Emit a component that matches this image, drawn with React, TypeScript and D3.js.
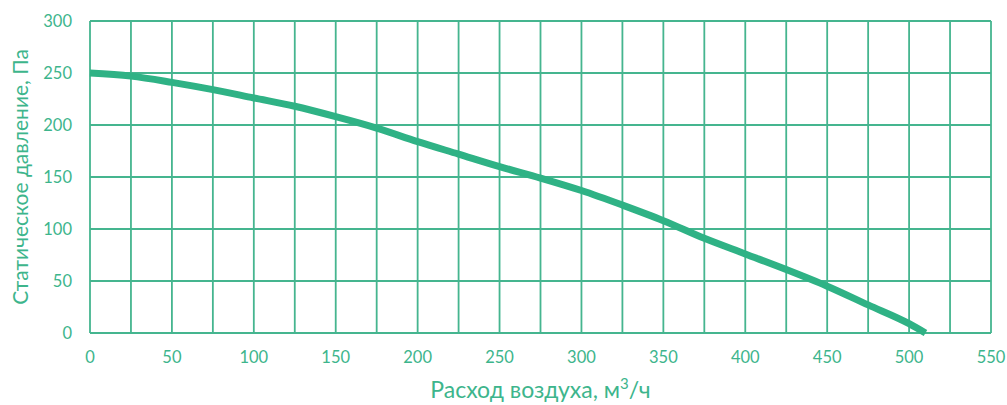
import { useRef, useEffect } from 'react';
import * as d3 from 'd3';

const flow = [0, 25, 50, 75, 100, 125, 150, 175, 200, 225, 250, 275, 300, 325, 350, 375, 400, 425, 450, 475, 500, 510];
const pressure = [250, 247, 241, 234, 226, 218, 208, 197, 184, 172, 160, 149, 137, 123, 108, 91, 76, 61, 45, 27, 9, 0];
const xTicks = [0, 50, 100, 150, 200, 250, 300, 350, 400, 450, 500, 550];
const xGrid = d3.range(0, 551, 25);
const yTicks = [0, 50, 100, 150, 200, 250, 300];

const width = 1007;
const height = 405;
const green = '#2fb285';
const labelColor = '#3db58c';
const gridColor = '#45b58f';
const font = 'Lato, "Open Sans", sans-serif';

export default function App() {
  const svgRef = useRef<SVGSVGElement>(null);

  useEffect(() => {
    if (!svgRef.current) return;
    const svg = d3.select(svgRef.current);
    svg.selectAll('*').remove();

    const margin = { top: 21, right: 16, bottom: 72, left: 90 };
    const w = width - margin.left - margin.right;
    const h = height - margin.top - margin.bottom;

    const g = svg.append('g').attr('transform', `translate(${margin.left},${margin.top})`);

    const x = d3.scaleLinear().domain([0, 550]).range([0, w]);
    const y = d3.scaleLinear().domain([0, 300]).range([h, 0]);

    // Grid
    g.selectAll('.vgrid')
      .data(xGrid)
      .join('line')
      .attr('x1', (d) => x(d))
      .attr('x2', (d) => x(d))
      .attr('y1', 0)
      .attr('y2', h)
      .attr('stroke', gridColor)
      .attr('stroke-width', 1.8);

    g.selectAll('.hgrid')
      .data(yTicks)
      .join('line')
      .attr('x1', 0)
      .attr('x2', w)
      .attr('y1', (d) => y(d))
      .attr('y2', (d) => y(d))
      .attr('stroke', gridColor)
      .attr('stroke-width', 1.8);

    // Curve
    const pts = flow.map((f, i) => [f, pressure[i]] as [number, number]);
    const line = d3.line<[number, number]>()
      .x((d) => x(d[0]))
      .y((d) => y(d[1]))
      .curve(d3.curveMonotoneX);

    g.append('path')
      .datum(pts)
      .attr('fill', 'none')
      .attr('stroke', green)
      .attr('stroke-width', 7)
      .attr('d', line);

    // Tick labels
    g.selectAll('.xt')
      .data(xTicks)
      .join('text')
      .attr('x', (d) => x(d))
      .attr('y', h + 30)
      .attr('text-anchor', 'middle')
      .attr('fill', labelColor)
      .attr('font-family', font)
      .attr('font-size', 16.5)
      .text((d) => d);

    g.selectAll('.yt')
      .data(yTicks)
      .join('text')
      .attr('x', -18)
      .attr('y', (d) => y(d) + 5.5)
      .attr('text-anchor', 'end')
      .attr('fill', labelColor)
      .attr('font-family', font)
      .attr('font-size', 16.5)
      .text((d) => d);

    // Axis titles
    const xt = svg.append('text')
      .attr('x', margin.left + w / 2)
      .attr('y', 398)
      .attr('text-anchor', 'middle')
      .attr('fill', labelColor)
      .attr('font-family', font)
      .attr('font-size', 23);
    xt.append('tspan').text('Расход воздуха, м');
    xt.append('tspan').attr('dy', -9).attr('font-size', 15).text('3');
    xt.append('tspan').attr('dy', 9).text('/ч');

    svg.append('text')
      .attr('transform', `translate(28,${margin.top + h / 2}) rotate(-90)`)
      .attr('text-anchor', 'middle')
      .attr('fill', labelColor)
      .attr('font-family', font)
      .attr('font-size', 21)
      .text('Статическое давление, Па');
  }, []);

  return (
    <svg
      ref={svgRef}
      width={width}
      height={height}
      style={{ position: 'absolute', left: 0, top: 0, background: '#fff' }}
    />
  );
}
